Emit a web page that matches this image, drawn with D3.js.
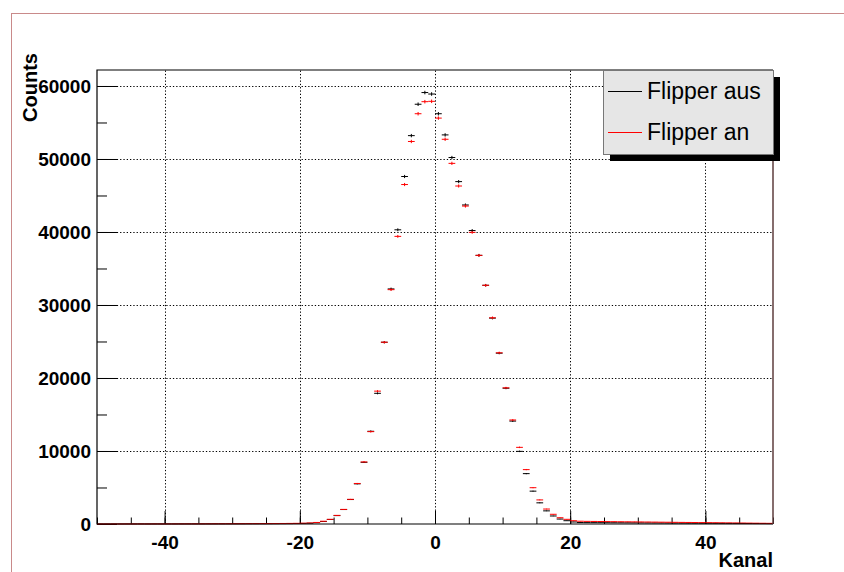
<!DOCTYPE html>
<html>
<head>
<meta charset="utf-8">
<script src="https://cdn.jsdelivr.net/npm/d3@7"></script>
<style>
  body { margin: 0; background: #fff; }
  svg text { font-family: "Liberation Sans", Arial, sans-serif; }
</style>
</head>
<body>
<svg id="chart" width="844" height="572"></svg>
<script>
// bin centres -49.5 ... 49.5 (bins of width 1)
var binCentres = d3.range(-49.5, 50, 1);

// Flipper aus (black)
var countsAus = [
  2, 1, 3, 2, 4, 3, 5, 4, 6, 5, 7, 8, 9, 10, 12, 11, 14, 16, 18, 20,
  22, 25, 28, 30, 34, 38, 42, 48, 55, 65,
  80, 110, 180, 340, 620, 1150, 1980, 3350, 5500, 8450,
  12700, 17900, 24900, 32200, 40300, 47600, 53200, 57500, 59100, 58900,
  56200, 53300, 50200, 46900, 43700, 40200, 36800, 32700, 28200, 23400,
  18600, 14100, 9950, 6900, 4500, 2900, 1800, 1100, 680, 450,
  280, 200, 190, 185, 180, 175, 170, 165, 160, 155,
  150, 145, 140, 135, 130, 125, 120, 115, 110, 105,
  100, 95, 90, 85, 80, 75, 70, 65, 60, 55
];

// Flipper an (red)
var countsAn = [
  5, 4, 6, 5, 8, 7, 9, 8, 11, 10, 13, 14, 16, 18, 20, 22, 25, 28, 30, 34,
  38, 42, 46, 50, 55, 60, 66, 72, 80, 90,
  110, 140, 210, 380, 640, 1180, 2000, 3380, 5550, 8500,
  12650, 18200, 24900, 32100, 39400, 46500, 52400, 56200, 57850, 57900,
  55600, 52700, 49400, 46300, 43550, 39950, 36800, 32700, 28250, 23450,
  18650, 14250, 10500, 7450, 4970, 3300, 2050, 1330, 860, 640,
  450, 380, 360, 350, 340, 330, 320, 310, 300, 290,
  280, 270, 260, 250, 240, 230, 220, 210, 200, 190,
  180, 170, 160, 150, 140, 130, 120, 110, 100, 90
];

var xMajor = [-40, -20, 0, 20, 40];
var xMinor = d3.range(-50, 51, 5);
var yMajor = [0, 10000, 20000, 30000, 40000, 50000, 60000];
var yMinor = d3.range(0, 62001, 5000);

var legendNames = ["Flipper aus", "Flipper an"];
var seriesColors = ["#000000", "#ff0000"];

var svg = d3.select("#chart");
var L = 97, R = 773, T = 70, B = 524;

var x = d3.scaleLinear().domain([-50, 50]).range([L, R]);
var y = d3.scaleLinear().domain([0, 62190]).range([B, T]);

// canvas border
svg.append("line").attr("x1", 11.5).attr("x2", 11.5).attr("y1", 13).attr("y2", 572)
  .attr("stroke", "#c98a8a").attr("stroke-width", 1);
svg.append("line").attr("x1", 11).attr("x2", 844).attr("y1", 13.5).attr("y2", 13.5)
  .attr("stroke", "#c98a8a").attr("stroke-width", 1);

// grid
var grid = svg.append("g").attr("stroke", "#000").attr("stroke-width", 1)
  .attr("stroke-dasharray", "1.3,2");
grid.selectAll(".gx").data(xMajor).enter().append("line")
  .attr("x1", function(d) { return Math.round(x(d)) + 0.5; })
  .attr("x2", function(d) { return Math.round(x(d)) + 0.5; })
  .attr("y1", B).attr("y2", T);
grid.selectAll(".gy").data(yMajor.slice(1)).enter().append("line")
  .attr("y1", function(d) { return Math.round(y(d)) + 0.5; })
  .attr("y2", function(d) { return Math.round(y(d)) + 0.5; })
  .attr("x1", L).attr("x2", R);

// axes (ticks pointing inward)
var axFont = "bold 19px 'Liberation Sans', Arial, sans-serif";
var plain = function(d) { return String(d); };

var yMinAx = svg.append("g").attr("transform", "translate(" + L + ",0)")
  .call(d3.axisLeft(y).tickValues(yMinor).tickSize(-10).tickFormat(""));
var yMajAx = svg.append("g").attr("transform", "translate(" + L + ",0)")
  .call(d3.axisLeft(y).tickValues(yMajor).tickSize(-20).tickPadding(6).tickFormat(plain));
var xMinAx = svg.append("g").attr("transform", "translate(0," + B + ")")
  .call(d3.axisBottom(x).tickValues(xMinor).tickSize(-6.5).tickFormat(""));
var xMajAx = svg.append("g").attr("transform", "translate(0," + B + ")")
  .call(d3.axisBottom(x).tickValues(xMajor).tickSize(-13).tickPadding(12).tickFormat(plain));

[yMinAx, yMajAx, xMinAx, xMajAx].forEach(function(g) {
  g.select(".domain").remove();
  g.selectAll("line").attr("stroke", "#000");
  g.selectAll("text").style("font", axFont).attr("fill", "#000");
});

// data points with error bars
function drawSeries(values, color) {
  var g = svg.append("g").attr("stroke", color).attr("stroke-width", 1).attr("fill", "none");
  var pts = binCentres.map(function(c, i) { return { c: c, v: values[i] }; });
  g.selectAll(".h").data(pts).enter().append("line")
    .attr("x1", function(d) { return x(d.c - 0.5); })
    .attr("x2", function(d) { return x(d.c + 0.5); })
    .attr("y1", function(d) { return y(d.v); })
    .attr("y2", function(d) { return y(d.v); });
  g.selectAll(".v").data(pts).enter().append("line")
    .attr("x1", function(d) { return x(d.c); })
    .attr("x2", function(d) { return x(d.c); })
    .attr("y1", function(d) { return Math.min(B, y(d.v - Math.sqrt(d.v))); })
    .attr("y2", function(d) { return y(d.v + Math.sqrt(d.v)); });
}
drawSeries(countsAus, seriesColors[0]);
drawSeries(countsAn, seriesColors[1]);

// frame
svg.append("path")
  .attr("d", "M" + R + "," + T + "H" + L + "V" + B + "H" + R)
  .attr("fill", "none").attr("stroke", "#000").attr("stroke-width", 1.2);
svg.append("line").attr("x1", R).attr("x2", R).attr("y1", T).attr("y2", B)
  .attr("stroke", "#5e3c3c").attr("stroke-width", 1.5);

// axis titles
svg.append("text").attr("transform", "translate(37,53) rotate(-90)")
  .attr("text-anchor", "end").style("font", "bold 20px 'Liberation Sans', Arial, sans-serif")
  .text("Counts");
svg.append("text").attr("x", R).attr("y", 567)
  .attr("text-anchor", "end").style("font", "bold 20px 'Liberation Sans', Arial, sans-serif")
  .text("Kanal");

// legend
var lx = 603, ly = 70, lw = 170, lh = 84;
svg.append("rect").attr("x", lx + 7).attr("y", ly + 7).attr("width", lw).attr("height", lh)
  .attr("fill", "#000");
svg.append("rect").attr("x", lx + 0.5).attr("y", ly + 0.5).attr("width", lw).attr("height", lh)
  .attr("fill", "#e6e6e6").attr("stroke", "#777").attr("stroke-width", 1);
var rowY = [91.5, 132.5];
legendNames.forEach(function(name, i) {
  svg.append("line").attr("x1", 608).attr("x2", 642).attr("y1", rowY[i]).attr("y2", rowY[i])
    .attr("stroke", seriesColors[i]).attr("stroke-width", 1);
  svg.append("text").attr("x", 647).attr("y", rowY[i] + 7.5)
    .style("font", "23px 'Liberation Sans', Arial, sans-serif").attr("fill", "#000")
    .text(name);
});
</script>
</body>
</html>
